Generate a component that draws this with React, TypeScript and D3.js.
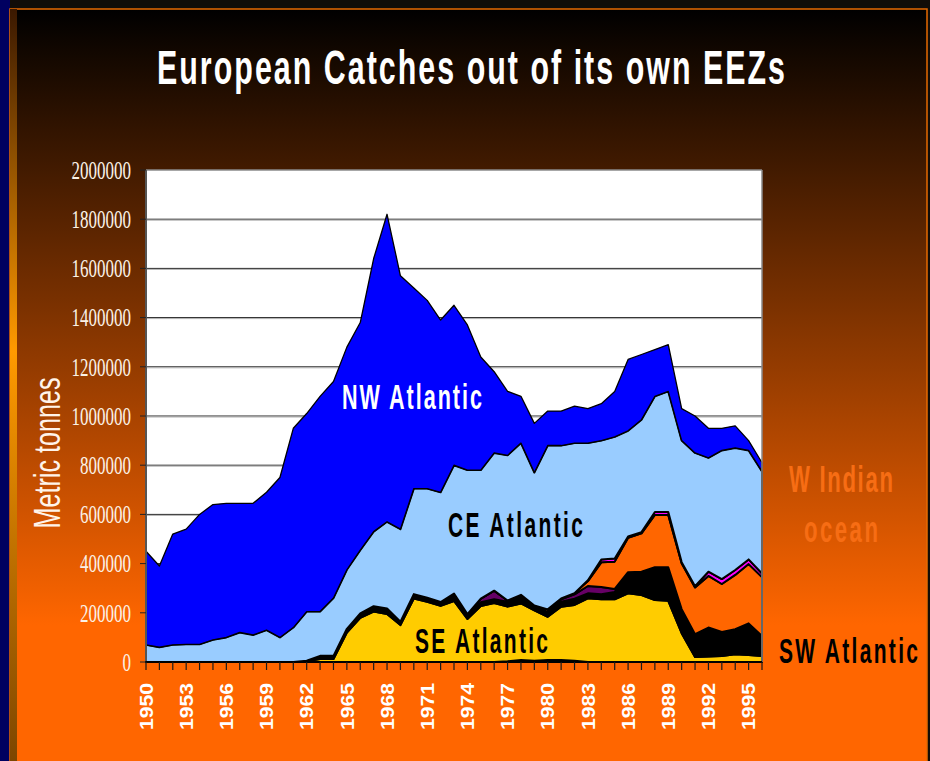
import React, { useRef, useEffect } from 'react';
import * as d3 from 'd3';

const years = [
  1950, 1951, 1952, 1953, 1954, 1955, 1956, 1957, 1958, 1959,
  1960, 1961, 1962, 1963, 1964, 1965, 1966, 1967, 1968, 1969,
  1970, 1971, 1972, 1973, 1974, 1975, 1976, 1977, 1978, 1979,
  1980, 1981, 1982, 1983, 1984, 1985, 1986, 1987, 1988, 1989,
  1990, 1991, 1992, 1993, 1994, 1995, 1996
];

// bottom to top, as stacked in the chart
const otherSmall = [
  0, 0, 0, 0, 0, 0, 0, 0, 0, 0,
  0, 0, 0, 0, 0, 0, 0, 0, 0, 0,
  0, 0, 0, 0, 0, 0, 0, 3000, 8000, 5000,
  8000, 8000, 5000, 0, 0, 0, 0, 0, 0, 0,
  0, 0, 0, 0, 0, 0, 0
];
const seAtlantic = [
  0, 0, 0, 0, 0, 0, 0, 0, 0, 0,
  0, 0, 3000, 12000, 12000, 120000, 180000, 205000, 195000, 150000,
  258000, 245000, 228000, 248000, 175000, 228000, 240000, 222000, 230000, 205000,
  176000, 217000, 227000, 259000, 255000, 255000, 279000, 272000, 252000, 249000,
  117000, 20000, 22000, 24000, 31000, 28000, 24000
];
const swAtlantic = [
  0, 0, 0, 0, 0, 0, 0, 0, 0, 0,
  0, 0, 2000, 13000, 13000, 15000, 18000, 22000, 23000, 14000,
  18000, 16000, 16000, 30000, 20000, 15000, 15000, 20000, 30000, 20000,
  20000, 20000, 25000, 20000, 20000, 30000, 82000, 92000, 130000, 133000,
  94000, 90000, 115000, 95000, 99000, 126000, 79000
];
const otherPurple = [
  0, 0, 0, 0, 0, 0, 0, 0, 0, 0,
  0, 0, 0, 0, 0, 0, 0, 0, 0, 0,
  0, 0, 0, 0, 0, 15000, 35000, 5000, 5000, 0,
  0, 10000, 18000, 30000, 30000, 12000, 4000, 3000, 3000, 3000,
  4000, 3000, 3000, 3000, 3000, 3000, 3000
];
const wIndian = [
  0, 0, 0, 0, 0, 0, 0, 0, 0, 0,
  0, 0, 0, 0, 0, 0, 0, 0, 0, 0,
  0, 0, 0, 0, 0, 0, 0, 0, 0, 0,
  10000, 3000, 5000, 20000, 100000, 111000, 140000, 156000, 213000, 213000,
  186000, 190000, 210000, 195000, 221000, 241000, 239000
];
const otherMagenta = [
  0, 0, 0, 0, 0, 0, 0, 0, 0, 0,
  0, 0, 0, 0, 0, 0, 0, 0, 0, 0,
  0, 0, 0, 0, 0, 0, 0, 0, 0, 0,
  0, 0, 0, 3000, 12000, 13000, 5000, 5000, 12000, 12000,
  5000, 5000, 17000, 20000, 20000, 19000, 15000
];
const ceAtlantic = [
  70000, 60000, 70000, 72000, 72000, 90000, 100000, 120000, 110000, 130000,
  100000, 140000, 200000, 180000, 235000, 240000, 257000, 303000, 352000, 376000,
  429000, 444000, 446000, 522000, 585000, 522000, 560000, 590000, 617000, 540000,
  666000, 622000, 610000, 558000, 483000, 494000, 430000, 457000, 470000, 490000,
  494000, 542000, 463000, 523000, 496000, 443000, 415000
];
const nwAtlantic = [
  380000, 330000, 450000, 468000, 528000, 550000, 545000, 525000, 535000, 560000,
  650000, 810000, 805000, 875000, 880000, 905000, 925000, 1110000, 1250000, 1030000,
  815000, 765000, 700000, 650000, 590000, 460000, 330000, 260000, 190000, 200000,
  140000, 140000, 150000, 140000, 150000, 185000, 290000, 265000, 190000, 190000,
  130000, 150000, 120000, 90000, 90000, 40000, 35000
];

const seriesKeys = ['other', 'SE Atlantic', 'SW Atlantic', 'purple', 'W Indian ocean', 'magenta', 'CE Atlantic', 'NW Atlantic'];
const seriesValues = [otherSmall, seAtlantic, swAtlantic, otherPurple, wIndian, otherMagenta, ceAtlantic, nwAtlantic];
const seriesColors = ['#1a0a1a', '#ffcc00', '#000000', '#660066', '#ff6600', '#ff00ff', '#99ccff', '#0000ff'];

const yTicks = [0, 200000, 400000, 600000, 800000, 1000000, 1200000, 1400000, 1600000, 1800000, 2000000];
const xLabelYears = [1950, 1953, 1956, 1959, 1962, 1965, 1968, 1971, 1974, 1977, 1980, 1983, 1986, 1989, 1992, 1995];

const App: React.FC = () => {
  const svgRef = useRef<SVGSVGElement>(null);
  const width = 930;
  const height = 761;

  useEffect(() => {
    if (!svgRef.current) return;
    const svg = d3.select(svgRef.current);
    svg.selectAll('*').remove();

    const left = 146, right = 762, top = 170, bottom = 662;

    // Background slide
    const defs = svg.append('defs');
    const bg = defs.append('linearGradient')
      .attr('id', 'bgGrad').attr('gradientUnits', 'userSpaceOnUse')
      .attr('x1', 0).attr('y1', 9).attr('x2', 0).attr('y2', 625);
    bg.append('stop').attr('offset', 0).attr('stop-color', '#000000');
    bg.append('stop').attr('offset', 1).attr('stop-color', '#ff6600');

    const edge = defs.append('linearGradient')
      .attr('id', 'edgeGrad').attr('x1', 0).attr('y1', 0).attr('x2', 0).attr('y2', 1);
    edge.append('stop').attr('offset', 0).attr('stop-color', '#3a1800');
    edge.append('stop').attr('offset', 0.45).attr('stop-color', '#ff9a00');
    edge.append('stop').attr('offset', 1).attr('stop-color', '#7a4400');

    svg.append('rect').attr('width', width).attr('height', height).attr('fill', '#110d08');
    svg.append('rect').attr('x', 0).attr('y', 0).attr('width', 10).attr('height', height).attr('fill', '#000060');
    svg.append('rect')
      .attr('x', 10).attr('y', 9).attr('width', 917).attr('height', height)
      .attr('fill', 'url(#bgGrad)')
      .attr('stroke', '#e66a00').attr('stroke-width', 1.5);
    svg.append('rect').attr('x', 10).attr('y', 9).attr('width', 7).attr('height', height).attr('fill', 'url(#edgeGrad)');

    // Scales
    const x = d3.scaleLinear().domain([1950, 1996]).range([left, right]);
    const y = d3.scaleLinear().domain([0, 2000000]).range([bottom, top]);

    // Plot area
    svg.append('rect')
      .attr('x', left).attr('y', top).attr('width', right - left).attr('height', bottom - top)
      .attr('fill', '#ffffff');

    // Gridlines
    yTicks.filter(t => t > 0 && t < 2000000).forEach(t => {
      svg.append('line')
        .attr('x1', left).attr('x2', right).attr('y1', y(t)).attr('y2', y(t))
        .attr('stroke', '#222').attr('stroke-width', 1);
      svg.append('line')
        .attr('x1', left).attr('x2', right).attr('y1', y(t) + 1).attr('y2', y(t) + 1)
        .attr('stroke', '#b0b0b0').attr('stroke-width', 1);
    });

    // Stacked areas
    const table = years.map((yr, i) => {
      const row: any = { year: yr };
      seriesKeys.forEach((k, j) => { row[k] = seriesValues[j][i]; });
      return row;
    });
    const stacked = d3.stack().keys(seriesKeys)(table);

    const area = d3.area<any>()
      .x(d => x(d.data.year))
      .y0(d => y(d[0]))
      .y1(d => y(d[1]));

    svg.append('g').selectAll('path')
      .data(stacked)
      .enter()
      .append('path')
      .attr('d', d => area(d as any) as string)
      .attr('fill', (_, i) => seriesColors[i])
      .attr('stroke', '#000')
      .attr('stroke-width', (_, i) => (i === seriesKeys.length - 1 ? 1.3 : 2))
      .attr('stroke-linejoin', 'round');

    // Plot frame
    svg.append('line').attr('x1', left).attr('x2', right).attr('y1', top).attr('y2', top)
      .attr('stroke', '#8a8a8a').attr('stroke-width', 1.5);
    svg.append('line').attr('x1', right).attr('x2', right).attr('y1', top).attr('y2', bottom)
      .attr('stroke', '#8a8a8a').attr('stroke-width', 1.5);
    svg.append('line').attr('x1', left).attr('x2', left).attr('y1', top).attr('y2', bottom)
      .attr('stroke', '#555').attr('stroke-width', 2);
    svg.append('line').attr('x1', left - 1).attr('x2', right).attr('y1', bottom).attr('y2', bottom)
      .attr('stroke', '#000').attr('stroke-width', 2);

    // Y axis ticks and labels
    yTicks.forEach(t => {
      svg.append('line')
        .attr('x1', left - 6).attr('x2', left).attr('y1', y(t)).attr('y2', y(t))
        .attr('stroke', '#222').attr('stroke-width', 1);
      svg.append('text')
        .attr('transform', `translate(131, ${y(t)}) scale(0.68, 1)`)
        .attr('text-anchor', 'end')
        .attr('dy', '0.35em')
        .style('font-family', '"Liberation Serif", "Times New Roman", serif')
        .style('font-size', '25px')
        .style('fill', '#fbf1e6')
        .text(String(t));
    });

    // X axis ticks and labels
    years.forEach(yr => {
      svg.append('line')
        .attr('x1', x(yr)).attr('x2', x(yr)).attr('y1', bottom).attr('y2', bottom + 8)
        .attr('stroke', '#1a1a1a').attr('stroke-width', 1.2);
    });
    xLabelYears.forEach(yr => {
      svg.append('text')
        .attr('transform', `translate(${x(yr)}, 730) rotate(-90)`)
        .attr('dy', '0.36em')
        .attr('textLength', 47)
        .attr('lengthAdjust', 'spacingAndGlyphs')
        .style('font-family', '"Liberation Sans", Arial, sans-serif')
        .style('font-weight', 'bold')
        .style('font-size', '18.5px')
        .style('fill', '#ffffff')
        .text(String(yr));
    });

    // Axis title
    svg.append('text')
      .attr('transform', 'translate(60, 453) rotate(-90)')
      .attr('text-anchor', 'middle')
      .attr('textLength', 151)
      .attr('lengthAdjust', 'spacingAndGlyphs')
      .style('font-family', '"Liberation Sans", Arial, sans-serif')
      .style('font-size', '37px')
      .style('fill', '#fff4ea')
      .text('Metric tonnes');

    // Condensed bold text with open letter spacing, as in the slide
    const spacedText = (txt: string, x0: number, y0: number, w: number, size: number, color: string, sx: number) => {
      svg.append('text')
        .attr('transform', `translate(${x0}, ${y0}) scale(${sx}, 1)`)
        .attr('textLength', w / sx)
        .attr('lengthAdjust', 'spacing')
        .style('font-family', '"Liberation Sans", Arial, sans-serif')
        .style('font-weight', 'bold')
        .style('font-size', `${size}px`)
        .style('fill', color)
        .text(txt);
    };

    // Title
    spacedText('European Catches out of its own EEZs', 157, 84, 628, 49, '#ffffff', 0.62);

    // Series labels
    spacedText('NW Atlantic', 342, 409, 140, 36, '#ffffff', 0.6);
    spacedText('CE Atlantic', 448, 537, 135, 35, '#000000', 0.6);
    spacedText('SE Atlantic', 415, 653, 133, 35, '#000000', 0.6);
    spacedText('SW Atlantic', 779, 663, 139, 35, '#000000', 0.6);
    spacedText('W Indian', 789, 492, 104, 37, '#f76d14', 0.6);
    spacedText('ocean', 804, 542, 74, 37, '#f76d14', 0.6);
  }, []);

  return (
    <svg
      ref={svgRef}
      width={width}
      height={height}
      style={{ position: 'absolute', left: 0, top: 0, display: 'block' }}
    />
  );
};

export default App;
